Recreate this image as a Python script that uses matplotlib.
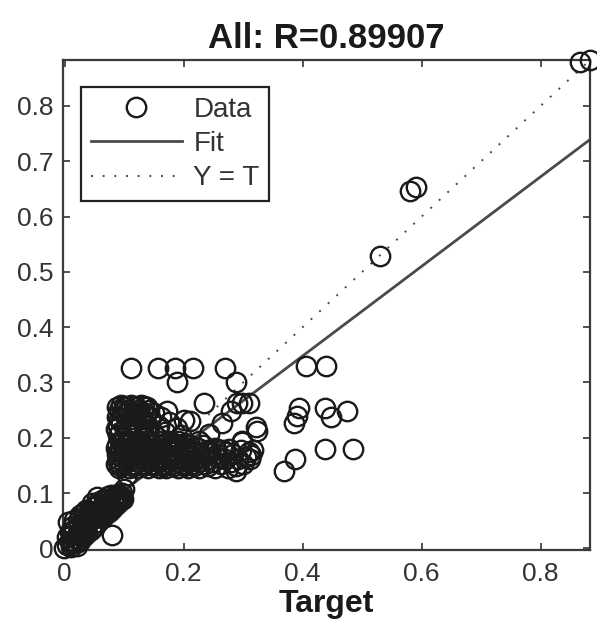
import matplotlib
matplotlib.use("Agg")
import matplotlib.pyplot as plt

plt.rcParams['font.family'] = ['Liberation Sans', 'DejaVu Sans']

# low cluster along the diagonal
target_low = [-0.002, 0.004, 0.006, 0.008, 0.010, 0.012, 0.014, 0.015, 0.016, 0.018,
              0.020, 0.022, 0.024, 0.025, 0.026, 0.028, 0.030, 0.032, 0.034, 0.035,
              0.036, 0.038, 0.040, 0.042, 0.044, 0.045, 0.046, 0.048, 0.050, 0.052,
              0.054, 0.055, 0.056, 0.058, 0.060, 0.062, 0.064, 0.066, 0.068, 0.070,
              0.072, 0.074, 0.076, 0.078, 0.080, 0.080, 0.082, 0.084, 0.086, 0.088,
              0.090, 0.092, 0.094, 0.096, 0.098, 0.100, 0.104,
              0.003, 0.009, 0.013, 0.019, 0.023, 0.027, 0.031, 0.037, 0.041, 0.047,
              0.051, 0.057, 0.061, 0.067, 0.071, 0.077, 0.083, 0.087, 0.091, 0.095,
              0.011, 0.021, 0.033, 0.043, 0.053, 0.063, 0.073, 0.085]
output_low = [0.000, 0.006, 0.048, 0.014, 0.002, 0.024, 0.010, 0.052, 0.034, 0.018,
              0.004, 0.028, 0.042, 0.060, 0.014, 0.034, 0.052, 0.022, 0.040, 0.070,
              0.060, 0.028, 0.048, 0.068, 0.034, 0.082, 0.056, 0.074, 0.040, 0.062,
              0.082, 0.092, 0.048, 0.068, 0.086, 0.054, 0.074, 0.090, 0.060, 0.080,
              0.094, 0.066, 0.084, 0.096, 0.024, 0.072, 0.088, 0.096, 0.078, 0.092,
              0.098, 0.084, 0.094, 0.100, 0.090, 0.108, 0.132,
              0.020, 0.030, 0.040, 0.010, 0.050, 0.022, 0.064, 0.046, 0.058, 0.044,
              0.076, 0.058, 0.072, 0.078, 0.088, 0.074, 0.080, 0.086, 0.092, 0.088,
              0.008, 0.016, 0.030, 0.052, 0.056, 0.064, 0.072, 0.090]

# dense band, output levels 0.145 - 0.194
target_mid = [0.092, 0.108, 0.121, 0.140, 0.158, 0.171, 0.190, 0.207, 0.226, 0.252, 0.275,
              0.095, 0.113, 0.131, 0.150, 0.166, 0.184, 0.201, 0.218, 0.240, 0.288,
              0.086, 0.099, 0.114, 0.129, 0.146, 0.163, 0.180, 0.197, 0.214, 0.236, 0.262, 0.300,
              0.089, 0.107, 0.124, 0.140, 0.156, 0.174, 0.191, 0.208, 0.226, 0.250, 0.280,
              0.090, 0.104, 0.118, 0.133, 0.151, 0.168, 0.185, 0.202, 0.220, 0.244, 0.270, 0.291, 0.312,
              0.095, 0.110, 0.125, 0.143, 0.160, 0.177, 0.194, 0.212, 0.232, 0.258, 0.304,
              0.087, 0.100, 0.112, 0.126, 0.140, 0.155, 0.172, 0.190, 0.208, 0.228, 0.256, 0.282,
              0.093, 0.107, 0.119, 0.133, 0.147, 0.163, 0.181, 0.199, 0.218, 0.242, 0.270,
              0.091, 0.106, 0.120, 0.136, 0.150, 0.165, 0.181, 0.199, 0.216, 0.240, 0.266, 0.296, 0.316,
              0.086, 0.098, 0.113, 0.128, 0.142, 0.157, 0.173, 0.189, 0.206, 0.224, 0.252,
              0.088, 0.102, 0.116, 0.131, 0.145, 0.160, 0.177, 0.194, 0.211, 0.232,
              0.096, 0.109, 0.123, 0.137, 0.152, 0.168, 0.184, 0.202,
              0.093, 0.110, 0.124, 0.139, 0.156, 0.173, 0.190, 0.225, 0.298]
output_mid = [0.145] * 11 + [0.149] * 10 + [0.153] * 12 + [0.157] * 11 + \
             [0.162] * 13 + [0.166] * 11 + [0.170] * 12 + [0.174] * 11 + \
             [0.178] * 13 + [0.182] * 11 + [0.186] * 10 + [0.190] * 8 + [0.194] * 9

# upper part of the band near target 0.1
target_up = [0.090, 0.112, 0.133, 0.150, 0.086, 0.101, 0.124, 0.142,
             0.093, 0.108, 0.120, 0.137, 0.089, 0.103, 0.121, 0.140,
             0.095, 0.116, 0.135, 0.092, 0.110, 0.130,
             0.088, 0.105, 0.126, 0.144, 0.100, 0.119, 0.137,
             0.097, 0.114, 0.131, 0.092, 0.108, 0.125, 0.142,
             0.088, 0.103, 0.120, 0.138, 0.099, 0.116, 0.133,
             0.094, 0.111, 0.128,
             0.150, 0.162, 0.172, 0.158, 0.176, 0.168, 0.188, 0.200, 0.195]
output_up = [0.205, 0.205, 0.205, 0.205, 0.215, 0.215, 0.215, 0.215,
             0.210, 0.210, 0.210, 0.210, 0.222, 0.222, 0.222, 0.222,
             0.228, 0.228, 0.228, 0.233, 0.233, 0.233,
             0.238, 0.238, 0.238, 0.238, 0.243, 0.243, 0.243,
             0.247, 0.247, 0.247, 0.251, 0.251, 0.251, 0.251,
             0.255, 0.255, 0.255, 0.255, 0.258, 0.258, 0.258,
             0.260, 0.260, 0.260,
             0.245, 0.238, 0.248, 0.222, 0.228, 0.210, 0.218, 0.232, 0.205]

# scattered points
target_sparse = [0.210, 0.234, 0.243, 0.265, 0.280, 0.290, 0.298, 0.310, 0.321, 0.323,
                 0.298, 0.310, 0.288, 0.254, 0.276, 0.313,
                 0.111, 0.156, 0.186, 0.216, 0.270, 0.189, 0.288,
                 0.393, 0.390, 0.385, 0.438, 0.447, 0.474, 0.438, 0.484, 0.387, 0.368,
                 0.405, 0.439,
                 0.530, 0.581, 0.591, 0.866, 0.883]
output_sparse = [0.231, 0.262, 0.206, 0.226, 0.249, 0.262, 0.262, 0.262, 0.220, 0.213,
                 0.193, 0.175, 0.139, 0.180, 0.180, 0.168,
                 0.327, 0.327, 0.327, 0.327, 0.327, 0.300, 0.300,
                 0.253, 0.240, 0.226, 0.253, 0.238, 0.249, 0.180, 0.179, 0.162, 0.139,
                 0.329, 0.329,
                 0.529, 0.646, 0.653, 0.880, 0.883]

target = target_low + target_mid + target_up + target_sparse
output = output_low + output_mid + output_up + output_sparse

fit_slope = 0.81
fit_intercept = 0.024
lim = [-0.003, 0.883]

fig = plt.figure(figsize=(5.97, 6.24), dpi=100)
ax = fig.add_axes([0.1055, 0.1186, 0.8828, 0.7852])

ax.plot(target, output, 'o', ms=14, mfc='none', mec='#1a1a1a', mew=1.7, label='Data',
        clip_on=False, zorder=3)
ax.plot(lim, [fit_intercept + fit_slope * v for v in lim], '-', color='#4a4a4a',
        lw=2.0, label='Fit')
ax.plot(lim, lim, color='#4a4a4a', lw=1.4, dashes=(1, 5), label='Y = T')

ax.set_xlim(lim)
ax.set_ylim(lim)
ax.set_xticks([0, 0.2, 0.4, 0.6, 0.8])
ax.set_xticklabels(['0', '0.2', '0.4', '0.6', '0.8'])
ax.set_yticks([0, 0.1, 0.2, 0.3, 0.4, 0.5, 0.6, 0.7, 0.8])
ax.set_yticklabels(['0', '0.1', '0.2', '0.3', '0.4', '0.5', '0.6', '0.7', '0.8'])
ax.tick_params(direction='in', length=5, width=1.2, color='#333333',
               top=True, right=True, labelsize=19, labelcolor='#333333')
ax.tick_params(axis='x', pad=9)
ax.tick_params(axis='y', pad=7)
for s in ax.spines.values():
    s.set_color('#3a3a3a')
    s.set_linewidth(1.6)

ax.set_title('All: R=0.89907', fontsize=25, fontweight='bold', color='#1a1a1a', pad=9)
ax.set_xlabel('Target', fontsize=23, fontweight='bold', color='#1a1a1a', labelpad=2)

leg = ax.legend(loc='upper left', bbox_to_anchor=(0.034, 0.945), fontsize=20,
                numpoints=1, handlelength=3.3, handletextpad=0.4, labelspacing=0.3,
                borderpad=0.35, borderaxespad=0, fancybox=False, framealpha=1,
                edgecolor='#222222')
leg.get_frame().set_linewidth(1.6)
leg.set_zorder(5)
for t in leg.get_texts():
    t.set_color('#333333')

fig.savefig('out.png', dpi=100)
